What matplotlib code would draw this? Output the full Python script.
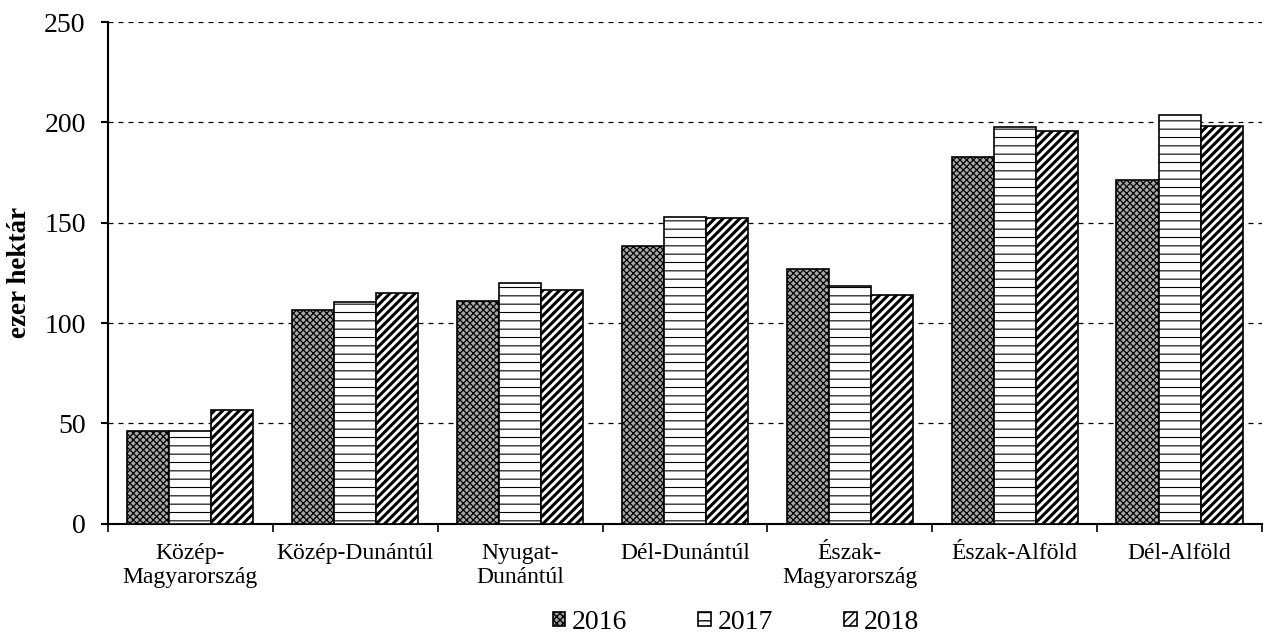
import numpy as np
import matplotlib
matplotlib.use('Agg')
import matplotlib.pyplot as plt

regions = ["Közép-\nMagyarország", "Közép-Dunántúl", "Nyugat-\nDunántúl",
           "Dél-Dunántúl", "Észak-\nMagyarország", "Észak-Alföld", "Dél-Alföld"]
years = ["2016", "2017", "2018"]
v2016 = [46.3, 106.6, 111.0, 138.4, 127.0, 182.8, 171.3]
v2017 = [46.0, 110.5, 120.0, 152.9, 118.5, 198.0, 203.7]
v2018 = [56.8, 115.0, 116.5, 152.4, 114.0, 195.7, 198.2]

plt.rcParams['font.family'] = ['Liberation Serif', 'DejaVu Serif']

fig = plt.figure(figsize=(12.64, 6.34), dpi=100)
ax = fig.add_axes([0.0854, 0.174, 0.913, 0.791])

x = np.arange(len(regions))
w = 0.255
styles = [dict(facecolor='#a8a8a8', hatch='xxxxx'),
          dict(facecolor='white', hatch='--'),
          dict(facecolor='white', hatch='////')]
hatch_lw = [0.9, 0.8, 2.2]
for i, (vals, yr) in enumerate(zip([v2016, v2017, v2018], years)):
    with plt.rc_context({'hatch.linewidth': hatch_lw[i]}):
        ax.bar(x + (i - 1) * w, vals, w, edgecolor='black', linewidth=1.2,
               label=yr, zorder=3, **styles[i])

ax.set_xlim(-0.5, len(regions) - 0.5)
ax.set_ylim(0, 250)
ax.set_yticks(np.arange(0, 251, 50))
ax.yaxis.grid(True, linestyle=(0, (4, 4)), color='black', linewidth=0.9)
ax.set_axisbelow(True)
ax.set_xticks(x)
ax.set_xticklabels(regions, fontsize=17, linespacing=1.15)
ax.set_xticks(np.arange(-0.5, len(regions)), minor=True)
ax.tick_params(axis='x', which='major', length=0, pad=14)
ax.tick_params(axis='x', which='minor', length=6, width=1.2)
ax.tick_params(axis='y', labelsize=20, length=5, width=1.5, pad=11)
for s in ['top', 'right']:
    ax.spines[s].set_visible(False)
for s in ['left', 'bottom']:
    ax.spines[s].set_linewidth(1.5)
ax.set_ylabel("ezer hektár", fontsize=19.5, fontweight='bold')
ax.yaxis.set_label_coords(-0.066, 0.5)

ax.legend(loc='upper center', bbox_to_anchor=(0.544, -0.122), ncol=3, frameon=False,
          fontsize=20, handlelength=0.45, handleheight=0.45, handletextpad=0.25,
          columnspacing=2.55)

fig.savefig("out.png", dpi=100)
